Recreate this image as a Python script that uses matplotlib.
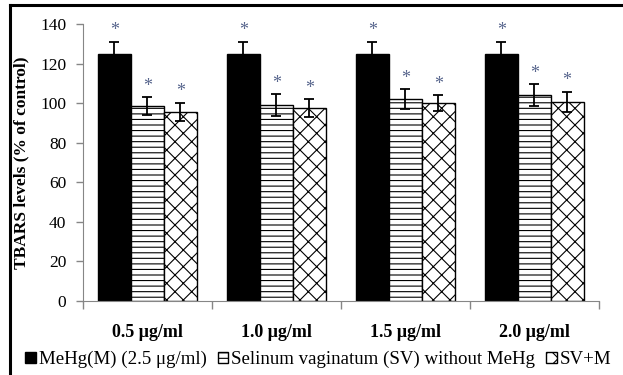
import numpy as np
import matplotlib
matplotlib.use('Agg')
import matplotlib.pyplot as plt
from matplotlib.lines import Line2D
from matplotlib.patches import Patch

plt.rcParams['font.family'] = ['Liberation Serif', 'DejaVu Serif']
plt.rcParams['hatch.linewidth'] = 0.8

# data
categories = ['0.5 μg/ml', '1.0 μg/ml', '1.5 μg/ml', '2.0 μg/ml']
mehg = [125, 125, 125, 125]
mehg_err = [6, 6, 6, 6]
sv = [98.5, 99, 102, 104]
sv_err = [4.5, 5.5, 5, 5.5]
svm = [95.5, 97.5, 100, 100.7]
svm_err = [4.5, 4.5, 4, 5]
labels = ['MeHg(M) (2.5 μg/ml)', 'Selinum vaginatum (SV) without MeHg', 'SV+M']

fig = plt.figure(figsize=(6.23, 3.75), dpi=100)
ax = fig.add_axes([0.133, 0.198, 0.828, 0.738])

x = np.arange(len(categories))
w = 0.255
series = [(mehg, mehg_err, 'black', ''), (sv, sv_err, 'white', '---'), (svm, svm_err, 'white', 'xx')]
for i, (vals, errs, fc, hatch) in enumerate(series):
    pos = x + (i - 1) * w
    ax.bar(pos, vals, w, color=fc, edgecolor='black', hatch=hatch, linewidth=1.0, zorder=2)
    ax.errorbar(pos, vals, yerr=errs, fmt='none', ecolor='black', elinewidth=1.3,
                capsize=3.5, capthick=1.3, zorder=3)
    for p, v, e in zip(pos, vals, errs):
        ax.annotate('*', (p, v + e), xytext=(0, 8), textcoords='offset points',
                    ha='center', va='center', fontsize=13, color='#56648c')

ax.set_ylim(0, 140)
ax.set_yticks(range(0, 141, 20))
ax.set_xlim(-0.5, len(categories) - 0.5)
ax.set_xticks(x)
ax.set_xticklabels(categories, fontsize=13, fontweight='bold')
ax.set_xticks(np.arange(len(categories) + 1) - 0.5, minor=True)
ax.tick_params(axis='x', which='major', length=0, pad=17)
ax.tick_params(axis='x', which='minor', length=6, color='#868686', width=1)
ax.tick_params(axis='y', length=5, color='#868686', width=1, labelsize=12.5, pad=7)
for s in ['top', 'right']:
    ax.spines[s].set_visible(False)
for s in ['left', 'bottom']:
    ax.spines[s].set_color('#868686')
ax.set_ylabel('TBARS levels (% of control)', fontsize=12.5, fontweight='bold')
ax.yaxis.set_label_coords(-0.104, 0.5)

handles = [Patch(facecolor='black', edgecolor='black'),
           Patch(facecolor='white', edgecolor='black', hatch='---'),
           Patch(facecolor='white', edgecolor='black', hatch='xx')]
fig.legend(handles, labels, loc='lower left', bbox_to_anchor=(0.03, 0.0), ncol=3,
           frameon=False, fontsize=13.6, handlelength=0.55, handleheight=0.55,
           handletextpad=0.15, columnspacing=0.6, borderaxespad=0.15, borderpad=0.2)

# outer frame lines (top and left)
fig.add_artist(Line2D([10 / 623, 1], [1 - 5 / 375, 1 - 5 / 375], color='black', lw=2.2,
                      transform=fig.transFigure))
fig.add_artist(Line2D([10 / 623, 10 / 623], [0, 1 - 5 / 375], color='black', lw=2.2,
                      transform=fig.transFigure))

fig.savefig('out.png', dpi=100)
